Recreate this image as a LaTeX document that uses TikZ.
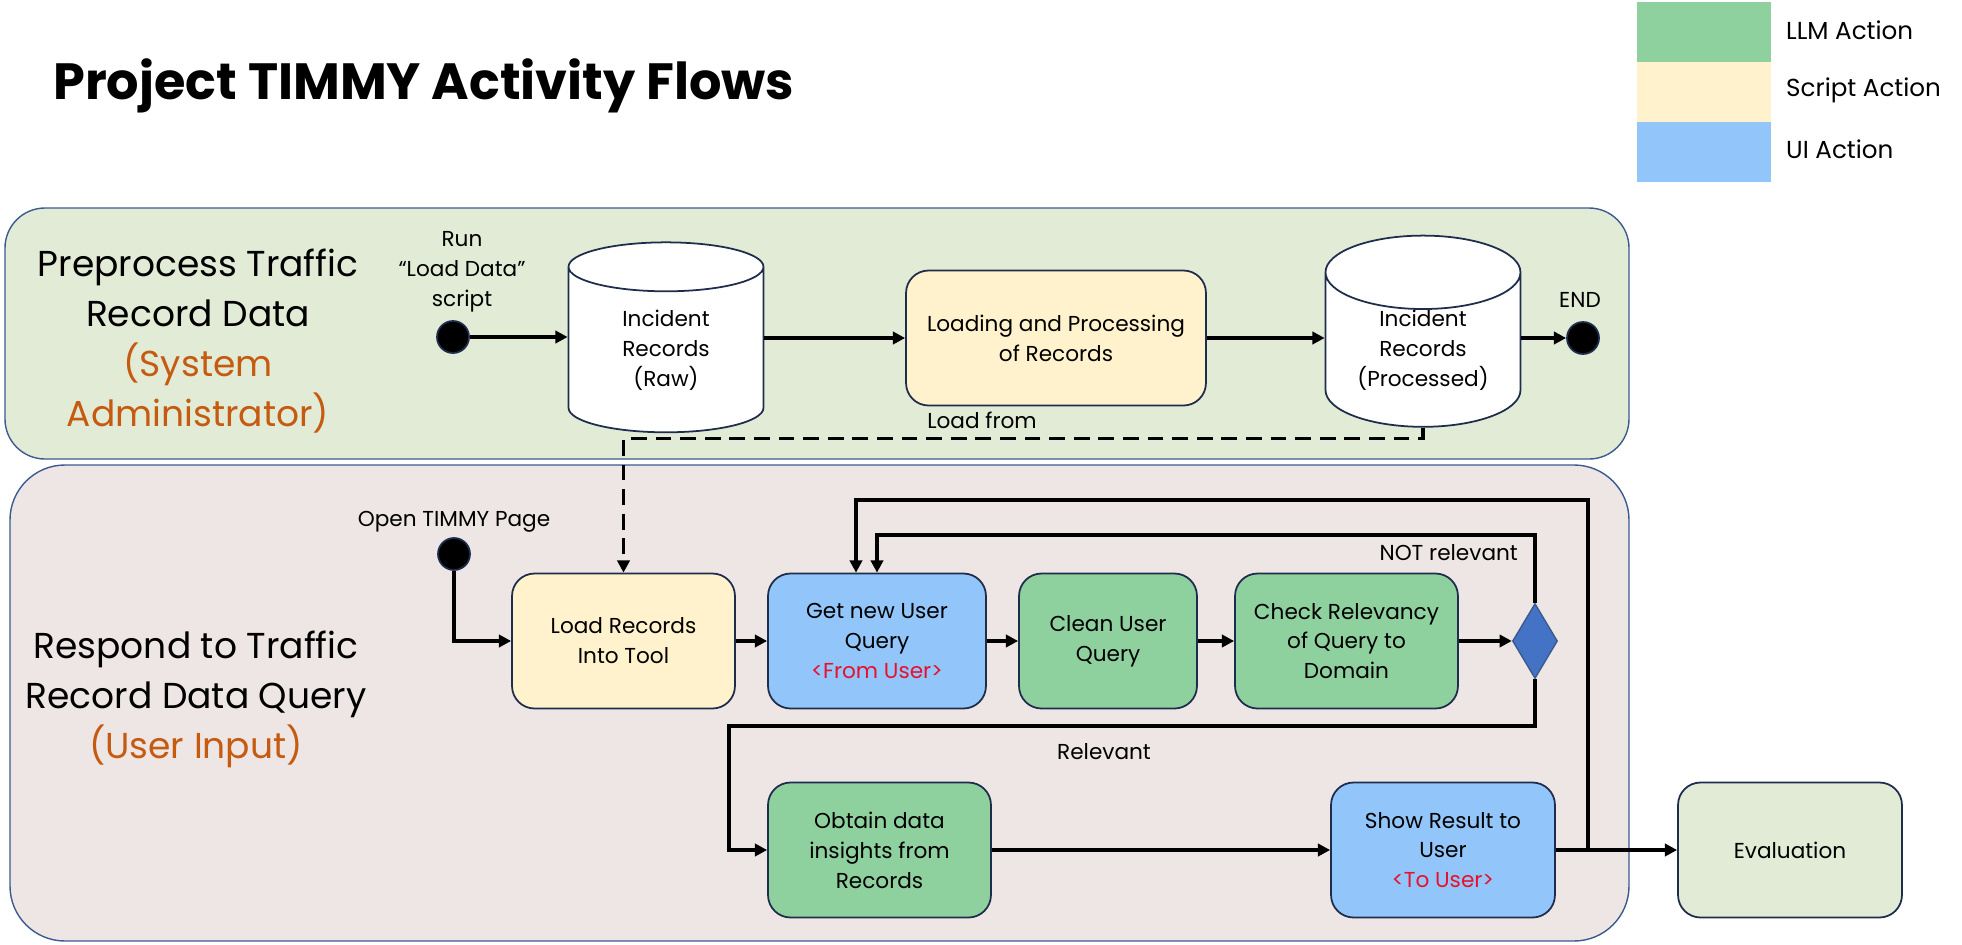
\documentclass[tikz,border=0pt]{standalone}
\usepackage{fontspec}
\setmainfont{Poppins}
\usetikzlibrary{arrows.meta,shapes.geometric,positioning}
\definecolor{llmgreen}{HTML}{8FD19E}
\definecolor{scriptyellow}{HTML}{FFF2CC}
\definecolor{uiblue}{HTML}{92C5F9}
\definecolor{prepgreen}{HTML}{E2EBD6}
\definecolor{resppink}{HTML}{EEE6E4}
\definecolor{frameblue}{HTML}{3B5B8F}
\definecolor{nodeborder}{HTML}{1F2D4D}
\definecolor{roleorange}{HTML}{C55A11}
\definecolor{iored}{HTML}{E8112D}
\definecolor{decblue}{HTML}{4472C4}

\begin{document}
\begin{tikzpicture}[x=0.02cm, y=-0.02cm,
    every node/.style={font=\fontsize{12.3}{17}\selectfont, align=center},
    action/.style={draw=nodeborder, line width=1pt, rounded corners=0.45cm,
        inner sep=0pt, minimum height=2.7cm},
    store/.style={cylinder, shape border rotate=90, draw=nodeborder, fill=white,
        line width=1pt, aspect=0.56, minimum width=3.9cm, minimum height=3.8cm, inner sep=0pt},
    dot/.style={circle, fill=black, draw=nodeborder, line width=1pt, minimum size=0.64cm, inner sep=0pt},
    flow/.style={line width=2pt, -{Triangle[length=7pt,width=7pt]}},
    lane/.style={font=\fontsize{20.5}{28.5}\selectfont},
    key/.style={anchor=west, font=\fontsize{14}{17}\selectfont}]

    \useasboundingbox (0,0) rectangle (1962,944);

    % Lanes
    \draw[fill=prepgreen, draw=frameblue, line width=0.8pt, rounded corners=0.8cm] (5,208) rectangle (1629,459);
    \draw[fill=resppink, draw=frameblue, line width=0.8pt, rounded corners=1.1cm] (10,465) rectangle (1629,941);

    % Title and legend
    \node[anchor=base west, inner sep=0pt, font=\fontsize{29}{34}\selectfont\bfseries] (title) at (53,99) {Project TIMMY Activity Flows};
    \fill[llmgreen] (1637,2) rectangle (1771,62);
    \fill[scriptyellow] (1637,62) rectangle (1771,122);
    \fill[uiblue] (1637,122) rectangle (1771,182);
    \node[key] (keyllm) at (1780,30) {LLM Action};
    \node[key] (keyscript) at (1780,90) {Script Action};
    \node[key] (keyui) at (1780,149) {UI Action};

    % Lane labels
    \node[lane] (prelabel) at (198,341) {Preprocess Traffic\\Record Data\\\textcolor{roleorange}{(System}\\\textcolor{roleorange}{Administrator)}};
    \node[lane] (resplabel) at (196,699) {Respond to Traffic\\Record Data Query\\\textcolor{roleorange}{(User Input)}};

    % Preprocess flow
    \node[dot] (start) at (453,337) {};
    \node (startlabel) at (462,272) {Run\\“Load Data”\\script};
    \node[store] (rawrec) at (666,350) {Incident\\Records\\(Raw)};
    \node[action, fill=scriptyellow, minimum width=6cm] (process) at (1056,338) {Loading and Processing\\of Records};
    \node[store] (procrec) at (1423,350) {Incident\\Records\\(Processed)};
    \node[dot] (finish) at (1583,338) {};
    \node (finishlabel) at (1580,300) {END};
    \node (loadlabel) at (982,420) {Load from};

    % Query flow
    \node[dot] (open) at (454,554) {};
    \node (openlabel) at (454,522) {Open TIMMY Page};
    \node[action, fill=scriptyellow, minimum width=4.46cm] (loadtool) at (623.5,641) {Load Records\\Into Tool};
    \node[action, fill=uiblue, minimum width=4.36cm] (getquery) at (877,641) {Get new User\\Query\\\textcolor{iored}{<From User>}};
    \node[action, fill=llmgreen, minimum width=3.56cm] (clean) at (1108,641) {Clean User\\Query};
    \node[action, fill=llmgreen, minimum width=4.46cm] (relevancy) at (1346.5,641) {Check Relevancy\\of Query to\\Domain};
    \node[diamond, fill=decblue, draw=frameblue, line width=0.8pt, minimum width=0.9cm, minimum height=1.5cm, inner sep=0pt] (decide) at (1535,641) {};
    \node[anchor=east] (notlabel) at (1524,553) {NOT relevant};
    \node (rellabel) at (1104,752) {Relevant};
    \node[action, fill=llmgreen, minimum width=4.46cm] (insight) at (879.5,850) {Obtain data\\insights from\\Records};
    \node[action, fill=uiblue, minimum width=4.48cm] (showres) at (1443,850) {Show Result to\\User\\\textcolor{iored}{<To User>}};
    \node[action, fill=prepgreen, minimum width=4.48cm] (evaluation) at (1790,850) {Evaluation};

    \coordinate (loopin) at (877,535);
    \coordinate (loopout) at (856,500);
    \coordinate (branch) at (1588,850);
    \coordinate (relturn) at (729,726);

    % Connectors
    \draw[flow] (start) -- (rawrec.west |- start);
    \draw[flow] (rawrec.east |- process) -- (process);
    \draw[flow] (process) -- (procrec.west |- process);
    \draw[flow] (procrec.east |- finish) -- (finish);
    \draw[flow, dash pattern=on 9pt off 5pt] (procrec.south) -- ++(0,11) -| (loadtool.north);
    \draw[flow] (open) |- (loadtool.west);
    \draw[flow] (loadtool) -- (getquery);
    \draw[flow] (getquery) -- (clean);
    \draw[flow] (clean) -- (relevancy);
    \draw[flow] (relevancy) -- (decide);
    \draw[flow] (decide.north) |- (loopin) -- (getquery.north);
    \draw[flow] (decide.south) |- (relturn) |- (insight.west);
    \draw[flow] (insight) -- (showres);
    \draw[flow] (showres) -- (evaluation);
    \draw[flow] (branch) |- (loopout) -- (loopout |- getquery.north);
\end{tikzpicture}
\end{document}
